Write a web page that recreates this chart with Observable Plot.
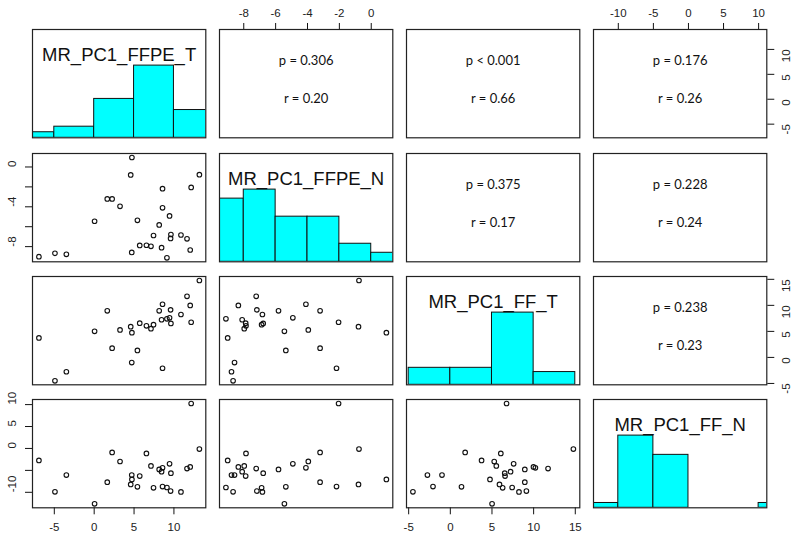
<!DOCTYPE html>
<html>
<head>
<meta charset="utf-8">
<script src="https://cdn.jsdelivr.net/npm/d3@7"></script>
<script src="https://cdn.jsdelivr.net/npm/@observablehq/plot@0.6"></script>
<style>
  body { margin: 0; background: #fff; }
  #chart { position: relative; width: 800px; height: 539px; overflow: hidden; background: #fff; }
  #chart svg { position: absolute; overflow: visible; }
</style>
</head>
<body>
<div id="chart"></div>
<script>
// ---- data ----
const names = ["MR_PC1_FFPE_T", "MR_PC1_FFPE_N", "MR_PC1_FF_T", "MR_PC1_FF_N"];

const ffpeT = [-6.93, -4.92, -3.49, 0.05, 1.64, 2.25, 3.24, 4.58, 4.73, 4.71, 5.42, 5.71, 6.55, 7.12,
               7.44, 8.15, 8.45, 8.57, 8.57, 9.12, 9.45, 9.58, 9.62, 10.88, 11.64, 12.04, 12.16, 13.19];
const ffpeN = [-9.01, -8.67, -8.77, -5.45, -3.21, -3.21, -3.95, -0.80, 0.95, -8.58, -5.36, -7.88, -7.86, -7.97,
               -6.88, -5.82, -8.10, -2.18, -4.10, -9.12, -4.92, -7.18, -6.78, -6.83, -7.22, -8.34, -2.05, -0.77];
const ffT   = [3.75, -4.49, -2.75, 5.01, 8.94, 1.78, 5.27, 5.90, 4.76, -1.00, 1.34, 6.57, 6.06, 5.52,
               6.28, 8.94, 7.23, -2.08, 10.21, 7.42, 7.60, 9.13, 6.53, 8.24, 11.73, 9.98, 6.75, 14.77];
const ffN   = [-2.74, -9.90, -6.08, -12.62, -7.68, -0.91, -2.97, -8.21, -7.07, -6.08, -8.75, -6.31, -1.14, -3.99,
               -8.97, -4.79, -5.30, -8.70, -4.41, -8.90, -3.50, -9.73, -5.63, -9.92, -4.60, -4.22, 10.25, -0.15];

// histogram breaks
const breaksT  = [-10, -5, 0, 5, 10, 15];
const breaksN  = [-10, -8, -6, -4, -2, 0, 2];
const breaksFT = [-5, 0, 5, 10, 15];
const breaksFN = [-15, -10, -5, 0, 5, 10, 15];

// correlation panels (upper triangle)
const corrPairs = [[0, 1], [0, 2], [0, 3], [1, 2], [1, 3], [2, 3]];
const pLabels = ["p = 0.306", "p < 0.001", "p = 0.176", "p = 0.375", "p = 0.228", "p = 0.238"];
const rLabels = ["r = 0.20", "r = 0.66", "r = 0.26", "r = 0.17", "r = 0.24", "r = 0.23"];

// axis ticks and labels
const ticksT  = [-5, 0, 5, 10];
const ticksN  = [-8, -6, -4, -2, 0];
const ticksFT = [-5, 0, 5, 10, 15];
const ticksFN = [-10, -5, 0, 5, 10];
const labelsTBottom = [-5, 0, 5, 10];
const labelsTRight  = [-5, 0, 5, 10];
const labelsNTop    = [-8, -6, -4, -2, 0];
const labelsNLeft   = [-8, -4, 0];
const labelsFTBottom = [-5, 0, 5, 10, 15];
const labelsFTRight  = [-5, 0, 5, 10, 15];
const labelsFNTop   = [-10, -5, 0, 5, 10];
const labelsFNLeft  = [-10, 0, 5, 10];

// ---- derived ----
const vars = [ffpeT, ffpeN, ffT, ffN];
const breaks = [breaksT, breaksN, breaksFT, breaksFN];
const ticks = [ticksT, ticksN, ticksFT, ticksFN];
const rows = ffpeT.map((_, k) => vars.map(v => v[k]));
const domains = vars.map(v => {
  const [lo, hi] = d3.extent(v);
  const pad = 0.04 * (hi - lo);
  return [lo - pad, hi + pad];
});

// layout
const L0 = 32.3, PX = 186.8, W = 173.3;
const T0 = 29.3, PY = 123.2, H = 108.3;
const MARG = 34;
const tickFont = "'Liberation Sans', Arial, sans-serif";
const chart = document.getElementById("chart");

function panel(i, j) {
  const left = L0 + j * PX, top = T0 + i * PY;
  const hasTop = i === 0 && j % 2 === 1;
  const hasBottom = i === 3 && j % 2 === 0;
  const hasLeft = j === 0 && i % 2 === 1;
  const hasRight = j === 3 && i % 2 === 0;
  const m = {
    top: hasTop ? MARG : 0, bottom: hasBottom ? MARG : 0,
    left: hasLeft ? MARG : 0, right: hasRight ? MARG : 0
  };
  const marks = [];
  let yDomain = domains[i];
  if (i === j) {
    yDomain = [0, 1.5];
    const br = breaks[i];
    const bins = d3.bin().domain([br[0], br[br.length - 1]]).thresholds(br.slice(1, -1))(vars[i]);
    const maxC = d3.max(bins, b => b.length);
    marks.push(Plot.rect(bins, {
      x1: "x0", x2: "x1", y1: 0, y2: b => b.length / maxC,
      fill: "#00FFFF", stroke: "#111", strokeWidth: 1, clip: true
    }));
    marks.push(Plot.text([names[i]], {
      frameAnchor: "top", dy: 18.5, fontSize: 18.5,
      fontFamily: "'Liberation Sans', Arial, sans-serif", fill: "#111"
    }));
  } else if (i > j) {
    marks.push(Plot.dot(rows, {
      x: d => d[j], y: d => d[i], r: 2.3,
      stroke: "#111", strokeWidth: 1.1, fill: "none"
    }));
  } else {
    const k = corrPairs.findIndex(([a, b]) => a === i && b === j);
    marks.push(Plot.text([pLabels[k]], {
      frameAnchor: "middle", dy: -22.5, fontSize: 13,
      fontFamily: "Lato, 'Open Sans', sans-serif", fill: "#111"
    }));
    marks.push(Plot.text([rLabels[k]], {
      frameAnchor: "middle", dy: 15.5, fontSize: 13,
      fontFamily: "Lato, 'Open Sans', sans-serif", fill: "#111"
    }));
  }
  const txt = { fontSize: 11.5, fontFamily: tickFont, fill: "#222" };
  if (hasTop) {
    marks.push(Plot.axisX({ anchor: "top", ticks: ticks[j], tickSize: 7, tickFormat: () => "", label: null, stroke: "#111" }));
    const lab = j === 1 ? labelsNTop : labelsFNTop;
    marks.push(Plot.text(lab, { x: d => d, text: d => String(d), frameAnchor: "top", dy: -20.3, ...txt }));
  }
  if (hasBottom) {
    marks.push(Plot.axisX({ anchor: "bottom", ticks: ticks[j], tickSize: 7, tickFormat: () => "", label: null, stroke: "#111" }));
    const lab = j === 0 ? labelsTBottom : labelsFTBottom;
    marks.push(Plot.text(lab, { x: d => d, text: d => String(d), frameAnchor: "bottom", dy: 22.8, ...txt }));
  }
  if (hasLeft) {
    marks.push(Plot.axisY({ anchor: "left", ticks: ticks[i], tickSize: 7, tickFormat: () => "", label: null, stroke: "#111" }));
    const lab = i === 1 ? labelsNLeft : labelsFNLeft;
    marks.push(Plot.text(lab, { y: d => d, text: d => String(d), frameAnchor: "left", dx: -20.6, rotate: -90, ...txt }));
  }
  if (hasRight) {
    marks.push(Plot.axisY({ anchor: "right", ticks: ticks[i], tickSize: 7, tickFormat: () => "", label: null, stroke: "#111" }));
    const lab = i === 0 ? labelsTRight : labelsFTRight;
    marks.push(Plot.text(lab, { y: d => d, text: d => String(d), frameAnchor: "right", dx: 19.5, rotate: -90, ...txt }));
  }
  marks.push(Plot.frame({ stroke: "#222", strokeWidth: 1.2 }));

  const svg = Plot.plot({
    width: W + m.left + m.right,
    height: H + m.top + m.bottom,
    marginTop: m.top, marginBottom: m.bottom, marginLeft: m.left, marginRight: m.right,
    x: { domain: domains[j], axis: null },
    y: { domain: yDomain, axis: null },
    style: { background: "transparent", overflow: "visible", color: "#111" },
    marks
  });
  svg.style.left = (left - m.left) + "px";
  svg.style.top = (top - m.top) + "px";
  svg.style.maxWidth = "none";
  chart.appendChild(svg);
}

for (let i = 0; i < 4; i++) for (let j = 0; j < 4; j++) panel(i, j);
</script>
</body>
</html>
